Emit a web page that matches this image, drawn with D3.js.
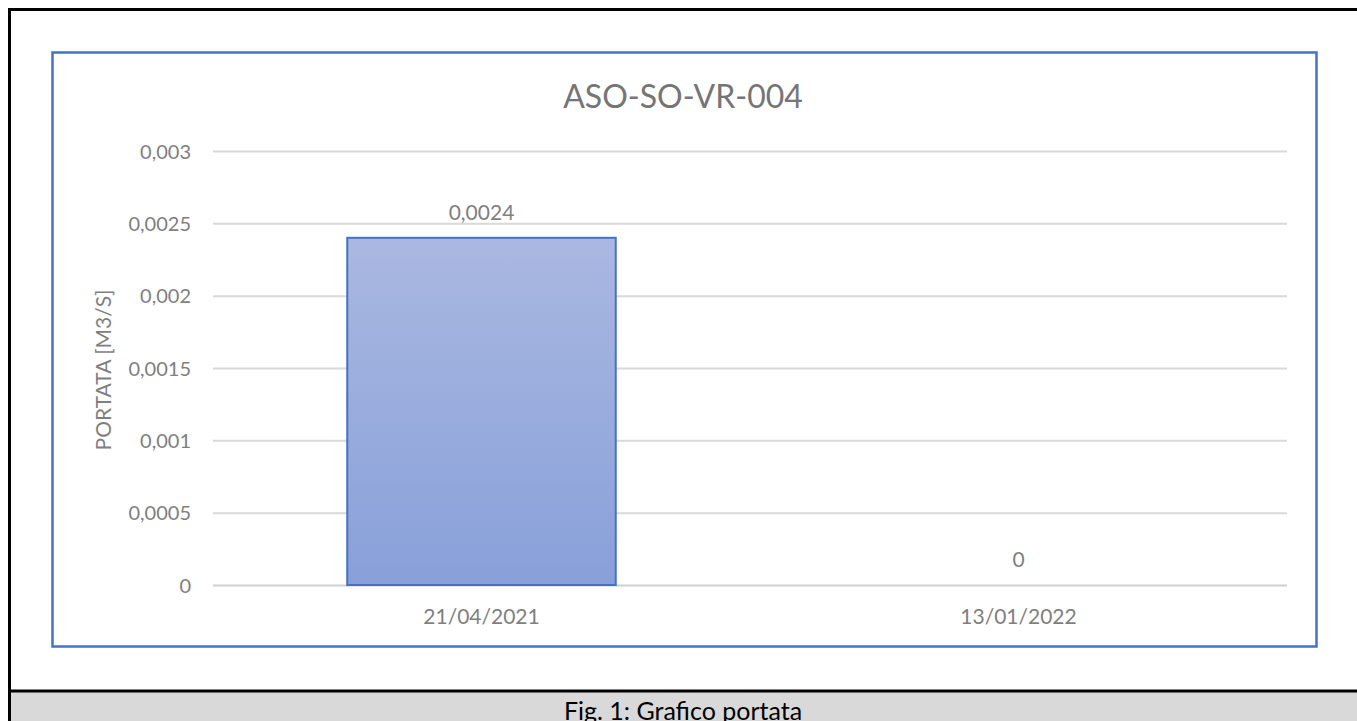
<!DOCTYPE html>
<html>
<head>
<meta charset="utf-8">
<script src="https://cdn.jsdelivr.net/npm/d3@7"></script>
<style>
  html, body { margin: 0; padding: 0; background: #fff; }
  svg { display: block; }
</style>
</head>
<body>
<svg id="chart" width="1357" height="721"></svg>
<script>
// Flow measurements for station ASO-SO-VR-004
const categories = ["21/04/2021", "13/01/2022"];
const values = [0.0024, 0];
const valueLabels = ["0,0024", "0"];
const yTicks = [0, 0.0005, 0.001, 0.0015, 0.002, 0.0025, 0.003];
const yTickLabels = ["0", "0,0005", "0,001", "0,0015", "0,002", "0,0025", "0,003"];
const chartTitle = "ASO-SO-VR-004";
const yAxisTitle = "PORTATA [M3/S]";
const caption = "Fig. 1: Grafico portata";

const FONT = "Lato, 'Open Sans', sans-serif";
const TEXT = "#7f7f7f";

const svg = d3.select("#chart");

// gradient for the bar fill
const defs = svg.append("defs");
const grad = defs.append("linearGradient")
  .attr("id", "barGrad").attr("x1", 0).attr("y1", 0).attr("x2", 0).attr("y2", 1);
grad.append("stop").attr("offset", "0%").attr("stop-color", "#aab8e1");
grad.append("stop").attr("offset", "100%").attr("stop-color", "#88a0d9");

// page frame: caption band and black border
svg.append("rect").attr("x", 11).attr("y", 692).attr("width", 1346).attr("height", 29).attr("fill", "#d9d9d9");
svg.append("line").attr("x1", 8).attr("x2", 1357).attr("y1", 9.5).attr("y2", 9.5)
  .attr("stroke", "#000").attr("stroke-width", 3);
svg.append("line").attr("x1", 9.5).attr("x2", 9.5).attr("y1", 8).attr("y2", 721)
  .attr("stroke", "#000").attr("stroke-width", 3);
svg.append("line").attr("x1", 8).attr("x2", 1357).attr("y1", 691).attr("y2", 691)
  .attr("stroke", "#000").attr("stroke-width", 3);
svg.append("text").attr("x", 683).attr("y", 720)
  .attr("text-anchor", "middle").attr("font-family", FONT)
  .attr("font-size", 25).attr("fill", "#000").text(caption);

// chart area border
svg.append("rect").attr("x", 52.5).attr("y", 52.5).attr("width", 1264).attr("height", 594)
  .attr("fill", "#fff").attr("stroke", "#4472c4").attr("stroke-width", 2.5);

// scales
const x = d3.scaleBand().domain(categories).range([213, 1287]).paddingInner(0.5).paddingOuter(0.25);
const y = d3.scaleLinear().domain([0, 0.003]).range([585, 151]);

// gridlines + y tick labels
const yAxis = d3.axisLeft(y).tickValues(yTicks)
  .tickFormat((d, i) => yTickLabels[i]).tickSize(0).tickPadding(0);
const yg = svg.append("g").attr("transform", "translate(213,0)").call(yAxis);
yg.select(".domain").remove();
yg.selectAll("text").attr("x", -22).attr("dy", "0.35em")
  .attr("font-family", FONT).attr("font-size", 20).attr("fill", TEXT);
yg.selectAll(".tick").append("line")
  .attr("x1", 0).attr("x2", 1074)
  .attr("stroke", d => d === 0 ? "#d0d0d0" : "#d9d9d9").attr("stroke-width", 2);

// bars
svg.append("g").selectAll("rect").data(values).join("rect")
  .attr("x", (d, i) => x(categories[i]))
  .attr("width", x.bandwidth())
  .attr("y", d => y(d))
  .attr("height", d => y(0) - y(d))
  .attr("fill", "url(#barGrad)")
  .attr("stroke", d => d > 0 ? "#4472c4" : "none")
  .attr("stroke-width", 2);

// value labels
svg.append("g").selectAll("text").data(values).join("text")
  .attr("x", (d, i) => x(categories[i]) + x.bandwidth() / 2)
  .attr("y", d => y(d) - 18)
  .attr("text-anchor", "middle")
  .attr("font-family", FONT).attr("font-size", 21).attr("fill", TEXT)
  .text((d, i) => valueLabels[i]);

// x axis labels
const xAxis = d3.axisBottom(x).tickSize(0).tickPadding(0);
const xg = svg.append("g").attr("transform", "translate(0,585)").call(xAxis);
xg.select(".domain").remove();
xg.selectAll("text").attr("y", 0).attr("dy", "39")
  .attr("font-family", FONT).attr("font-size", 21).attr("fill", TEXT);

// title
svg.append("text").attr("x", 683).attr("y", 108)
  .attr("text-anchor", "middle").attr("font-family", FONT)
  .attr("font-size", 32).attr("fill", "#757575").text(chartTitle);

// y axis title
svg.append("text")
  .attr("transform", "translate(111,370) rotate(-90)")
  .attr("text-anchor", "middle").attr("font-family", FONT)
  .attr("font-size", 21).attr("fill", TEXT).text(yAxisTitle);
</script>
</body>
</html>
